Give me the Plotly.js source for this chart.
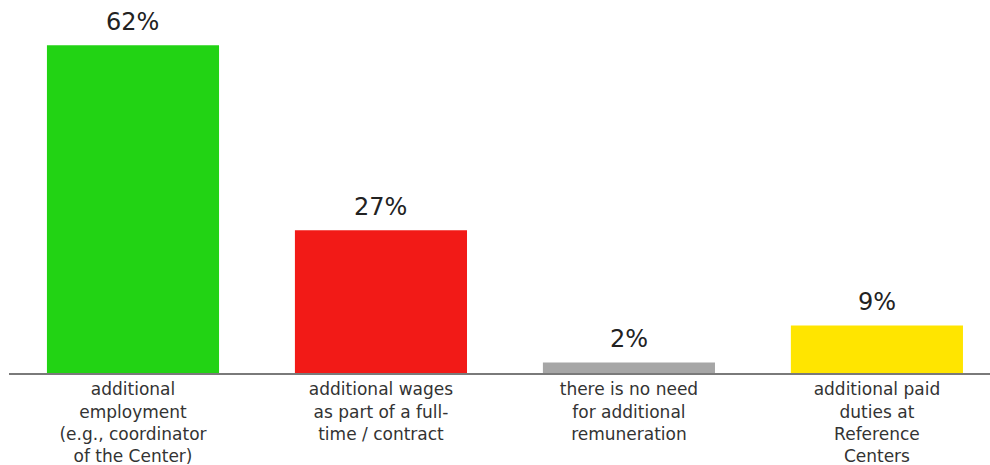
<!DOCTYPE html>
<html>
<head>
<meta charset="utf-8">
<script src="https://cdn.plot.ly/plotly-3.0.1.min.js"></script>
<style>html,body{margin:0;padding:0;background:#fff;}#chart{width:990px;height:465px;}</style>
</head>
<body>
<div id="chart"></div>
<script>
const categories = [
  "additional<br>employment<br>(e.g., coordinator<br>of the Center)",
  "additional wages<br>as part of a full-<br>time / contract",
  "there is no need<br>for additional<br>remuneration",
  "additional paid<br>duties at<br>Reference<br>Centers"
];
const values = [62, 27, 2, 9];
const valueLabels = ["62%", "27%", "2%", "9%"];
const colors = ["#22d314", "#f21a17", "#a6a6a6", "#ffe500"];

const trace = {
  type: "bar",
  x: [0, 1, 2, 3],
  y: values,
  marker: {color: colors},
  hoverinfo: "none"
};

const annotations = values.map((v, i) => ({
  x: i, y: v, xref: "x", yref: "y",
  text: valueLabels[i],
  showarrow: false,
  yanchor: "bottom",
  yshift: 7,
  font: {family: "DejaVu Sans, sans-serif", size: 24, color: "#222"}
}));

const layout = {
  width: 990, height: 465,
  margin: {l: 9, r: 0, t: 3, b: 92},
  paper_bgcolor: "#fff", plot_bgcolor: "#fff",
  bargap: 0.306,
  showlegend: false,
  annotations: annotations,
  font: {family: "DejaVu Sans, sans-serif", color: "#333"},
  xaxis: {
    range: [-0.5, 3.456],
    tickmode: "array",
    tickvals: [0, 1, 2, 3],
    ticktext: categories,
    tickfont: {family: "DejaVu Sans, sans-serif", size: 17, color: "#333"},
    showline: true, linecolor: "#7a7a7a", linewidth: 2,
    ticks: "", showgrid: false, zeroline: false
  },
  yaxis: {range: [0, 70], visible: false, showgrid: false, zeroline: false}
};

Plotly.newPlot("chart", [trace], layout, {staticPlot: true, displayModeBar: false});
</script>
</body>
</html>
